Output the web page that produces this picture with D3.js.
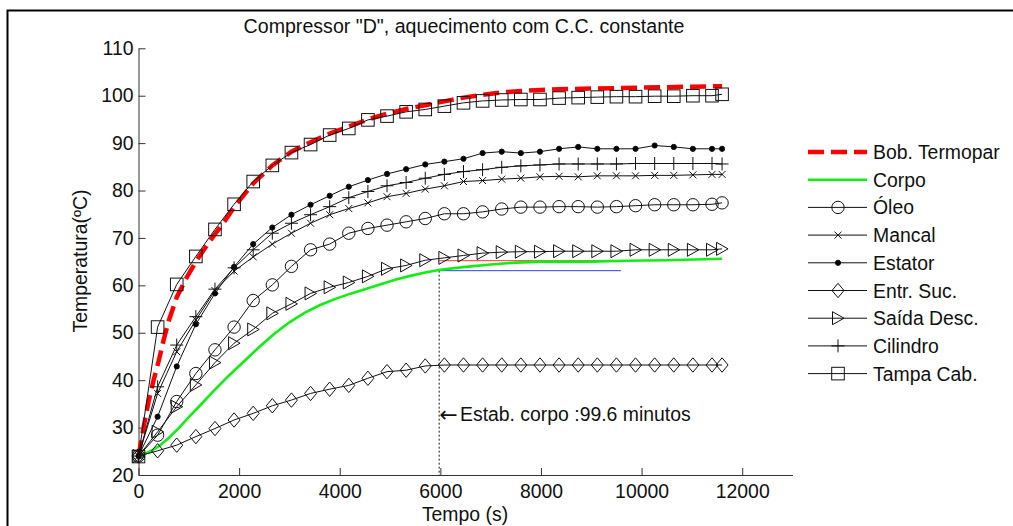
<!DOCTYPE html>
<html lang="pt">
<head>
    <meta charset="UTF-8">
    <title>Compressor D</title>
    <style>
        body { margin: 0; background: #fff; }
        text { font-family: "Liberation Sans", Arial, sans-serif; fill: #111; }
    </style>
</head>
<body>
<script src="https://cdn.jsdelivr.net/npm/d3@7/dist/d3.min.js" charset="utf-8"></script>
<script>
    // marker times (s) shared by the thermocouple series
    var times = [0, 380, 760, 1140, 1520, 1900, 2280, 2660, 3040, 3420, 3800, 4180, 4560, 4940, 5320, 5700,
        6080, 6460, 6840, 7220, 7600, 7980, 8360, 8740, 9120, 9500, 9880, 10260, 10640, 11020, 11400, 11600];

    var oleo = [24.0, 28.4, 35.5, 41.4, 46.4, 51.2, 56.8, 60.1, 64.0, 67.5, 68.7, 71.0, 72.0, 72.7, 73.4, 74.1,
        75.1, 75.1, 75.5, 76.1, 76.5, 76.5, 76.6, 76.6, 76.5, 76.6, 76.8, 77.0, 77.0, 77.0, 77.1, 77.4];
    var mancal = [24.0, 37.2, 46.0, 52.7, 58.9, 63.0, 66.0, 68.7, 71.0, 73.1, 74.9, 76.2, 77.4, 78.7, 79.4, 80.3,
        81.0, 81.9, 82.1, 82.4, 82.6, 82.9, 83.0, 82.9, 83.1, 83.1, 83.1, 83.2, 83.2, 83.3, 83.4, 83.4];
    var estator = [24.0, 32.3, 42.9, 51.8, 58.3, 63.9, 68.7, 72.2, 74.9, 77.0, 78.9, 80.8, 82.2, 83.5, 84.5, 85.5,
        86.1, 86.7, 87.9, 88.2, 87.9, 88.2, 88.8, 89.2, 88.8, 88.8, 88.8, 89.5, 89.2, 88.8, 88.8, 88.8];
    var entrSuc = [24.0, 25.1, 26.3, 28.1, 29.8, 31.6, 33.0, 34.6, 35.8, 37.2, 38.1, 38.9, 40.4, 41.8, 42.1, 43.0,
        43.2, 43.2, 43.2, 43.2, 43.2, 43.2, 43.2, 43.2, 43.2, 43.2, 43.2, 43.2, 43.2, 43.2, 43.2, 43.2];
    var saida = [24.0, 29.1, 34.4, 39.0, 43.7, 47.8, 50.7, 54.1, 56.1, 58.3, 59.6, 60.6, 61.9, 63.5, 64.2, 65.3,
        65.8, 66.3, 66.8, 67.0, 67.1, 67.1, 67.2, 67.2, 67.2, 67.2, 67.5, 67.5, 67.5, 67.5, 67.5, 67.7];
    var cilindro = [24.0, 38.6, 47.4, 53.4, 59.2, 63.7, 67.5, 71.0, 73.1, 74.9, 76.6, 78.5, 79.8, 81.0, 81.7, 82.6,
        83.4, 84.0, 84.4, 84.9, 85.2, 85.4, 85.6, 85.6, 85.6, 85.6, 85.7, 85.7, 85.7, 85.7, 85.7, 85.6];
    var tampa = [23.9, 51.2, 60.2, 66.1, 71.8, 77.1, 81.9, 85.3, 88.0, 89.7, 91.7, 93.1, 94.9, 95.7, 96.6, 97.1,
        97.8, 98.5, 98.9, 99.1, 99.2, 99.2, 99.5, 99.6, 99.7, 99.8, 99.8, 99.9, 99.9, 100.0, 100.0, 100.3];

    // continuous records
    var bobTimes = [0, 100, 200, 300, 400, 500, 600, 760, 950, 1140, 1330, 1520, 1710, 1900, 2280, 2660, 3040,
        3420, 3800, 4180, 4560, 4940, 5320, 5700, 6080, 6460, 6840, 7220, 7600, 8000, 8500, 9000, 9500, 10000,
        10500, 11000, 11600];
    var bobTemp = [24, 30, 35.5, 40, 44, 48.5, 52.5, 57.5, 61.5, 65, 68, 70.8, 73.5, 76.5, 81.5, 85.3, 88.2,
        90.2, 92.0, 93.5, 95.0, 96.2, 97.2, 98.0, 98.8, 99.6, 100.2, 100.7, 101.0, 101.2, 101.4, 101.5, 101.6,
        101.7, 101.8, 101.9, 102.0];
    var corpoTimes = [0, 200, 400, 600, 800, 1000, 1200, 1500, 1800, 2100, 2400, 2700, 3000, 3300, 3600, 3900,
        4200, 4500, 4800, 5100, 5400, 5700, 6000, 6500, 7000, 7500, 8000, 9000, 9700, 10500, 11600];
    var corpoTemp = [24.0, 24.8, 26.0, 27.8, 29.9, 32.2, 34.4, 37.8, 41.0, 44.0, 47.0, 49.8, 52.2, 54.2, 55.8,
        57.1, 58.2, 59.2, 60.2, 61.2, 62.0, 62.7, 63.3, 63.9, 64.4, 64.8, 65.0, 65.0, 65.2, 65.3, 65.6];

    // stabilisation marks
    var estabTime = 5976;          // 99.6 min
    var estabEnd = 9590;
    var estabUpper = 65.2;
    var estabLower = 63.1;

    var xTicks = [0, 2000, 4000, 6000, 8000, 10000, 12000];
    var yTicks = [20, 30, 40, 50, 60, 70, 80, 90, 100, 110];

    var svg = d3.select("body").append("svg")
            .attr("width", 1013)
            .attr("height", 526);

    // figure frame (only top and left edges fall inside the picture)
    svg.append("rect")
            .attr("x", 7.5).attr("y", 10.5)
            .attr("width", 1100).attr("height", 600)
            .style("fill", "none").style("stroke", "#000").style("stroke-width", 2);

    var x = d3.scaleLinear().domain([0, 13000]).range([138.5, 792.5]);
    var y = d3.scaleLinear().domain([20, 110]).range([475, 48.3]);

    // axes, MATLAB style ticks pointing inward
    var xAxis = svg.append("g")
            .attr("transform", "translate(0,475)")
            .call(d3.axisBottom(x).tickValues(xTicks).tickFormat(d3.format("d"))
                    .tickSizeInner(-7).tickSizeOuter(0).tickPadding(9));
    var yAxis = svg.append("g")
            .attr("transform", "translate(138.5,0)")
            .call(d3.axisLeft(y).tickValues(yTicks).tickFormat(d3.format("d"))
                    .tickSizeInner(-7).tickSizeOuter(0).tickPadding(5));
    [xAxis, yAxis].forEach(function(a) {
        a.select(".domain").style("stroke", "#333");
        a.selectAll(".tick line").style("stroke", "#333");
        a.selectAll("text").style("font-size", "19.4px").style("font-family", "Liberation Sans, Arial, sans-serif")
                .style("fill", "#111");
    });

    svg.append("text").attr("x", 464).attr("y", 33).attr("text-anchor", "middle")
            .style("font-size", "19.6px").text('Compressor "D", aquecimento com C.C.  constante');
    svg.append("text").attr("x", 465).attr("y", 521).attr("text-anchor", "middle")
            .style("font-size", "19.4px").text("Tempo (s)");
    svg.append("text").attr("transform", "translate(87,261) rotate(-90)").attr("text-anchor", "middle")
            .style("font-size", "19.4px").text("Temperatura(ºC)");

    // marker path generators
    var markers = {
        circle: function(g) { g.append("circle").attr("r", 6.2); },
        x: function(g) { g.append("path").attr("d", "M-3.5,-3.5L3.5,3.5M3.5,-3.5L-3.5,3.5"); },
        dot: function(g) { g.append("circle").attr("r", 2.6).style("fill", "#000"); },
        diamond: function(g) { g.append("path").attr("d", "M0,-7.2L6,0L0,7.2L-6,0Z"); },
        triangle: function(g) { g.append("path").attr("d", "M-5.5,-6.5L6,0L-5.5,6.5Z"); },
        plus: function(g) { g.append("path").attr("d", "M-6.5,0H6.5M0,-6.5V6.5"); },
        square: function(g) { g.append("rect").attr("x", -6.3).attr("y", -6.3).attr("width", 12.6).attr("height", 12.6); }
    };

    var series = [
        {name: "Óleo", values: oleo, marker: "circle"},
        {name: "Mancal", values: mancal, marker: "x"},
        {name: "Estator", values: estator, marker: "dot"},
        {name: "Entr. Suc.", values: entrSuc, marker: "diamond"},
        {name: "Saída Desc.", values: saida, marker: "triangle"},
        {name: "Cilindro", values: cilindro, marker: "plus"},
        {name: "Tampa Cab.", values: tampa, marker: "square"}
    ];

    var line = d3.line().x(function(d) { return x(d[0]); }).y(function(d) { return y(d[1]); });
    var plot = svg.append("g");

    // stabilisation reference lines
    plot.append("path").attr("d", line([[estabTime, estabUpper], [estabEnd, estabUpper]]))
            .style("fill", "none").style("stroke", "#ff3030").style("stroke-width", 1);
    plot.append("path").attr("d", line([[estabTime, estabLower], [estabEnd, estabLower]]))
            .style("fill", "none").style("stroke", "#3040ff").style("stroke-width", 1);
    plot.append("path").attr("d", line([[estabTime, estabLower], [estabTime, 20]]))
            .style("fill", "none").style("stroke", "#111").style("stroke-width", 1)
            .style("stroke-dasharray", "2,2");

    // Bob. Termopar
    plot.append("path").attr("d", line(d3.zip(bobTimes, bobTemp)))
            .style("fill", "none").style("stroke", "#ff0000").style("stroke-width", 4.5)
            .style("stroke-dasharray", "16,7");
    // Corpo
    plot.append("path").attr("d", line(d3.zip(corpoTimes, corpoTemp)))
            .style("fill", "none").style("stroke", "#11ee11").style("stroke-width", 2.6);

    series.forEach(function(s) {
        var pts = d3.zip(times, s.values);
        var g = plot.append("g");
        g.append("path").attr("d", line(pts))
                .style("fill", "none").style("stroke", "#111").style("stroke-width", 1);
        pts.forEach(function(p) {
            var m = g.append("g").attr("transform", "translate(" + x(p[0]) + "," + y(p[1]) + ")")
                    .style("fill", "none").style("stroke", "#111").style("stroke-width", 1);
            markers[s.marker](m);
        });
    });

    var note = svg.append("text").attr("x", x(estabTime)).attr("y", 421).style("font-size", "19.4px");
    note.append("tspan").style("font-family", "DejaVu Sans").style("font-size", "22px").attr("dy", 1).text("←");
    note.append("tspan").attr("x", 460).attr("dy", -1).text("Estab. corpo :99.6 minutos");

    // legend
    var legend = [{name: "Bob. Termopar", kind: "bob"}, {name: "Corpo", kind: "corpo"}]
            .concat(series.map(function(s) { return {name: s.name, kind: s.marker}; }));
    var lg = svg.append("g");
    legend.forEach(function(d, i) {
        var cy = 152 + i * 27.7;
        var row = lg.append("g").attr("transform", "translate(0," + cy + ")");
        var ln = row.append("line").attr("x1", 808).attr("x2", 867).attr("y1", 0).attr("y2", 0);
        if (d.kind === "bob") {
            ln.style("stroke", "#ff0000").style("stroke-width", 4.5).style("stroke-dasharray", "16,7");
        } else if (d.kind === "corpo") {
            ln.style("stroke", "#11ee11").style("stroke-width", 2.6);
        } else {
            ln.style("stroke", "#111").style("stroke-width", 1);
            var m = row.append("g").attr("transform", "translate(838,0)")
                    .style("fill", "none").style("stroke", "#111").style("stroke-width", 1);
            markers[d.kind](m);
        }
        row.append("text").attr("x", 873).attr("y", 7).style("font-size", "19.4px").text(d.name);
    });
</script>
</body>
</html>
